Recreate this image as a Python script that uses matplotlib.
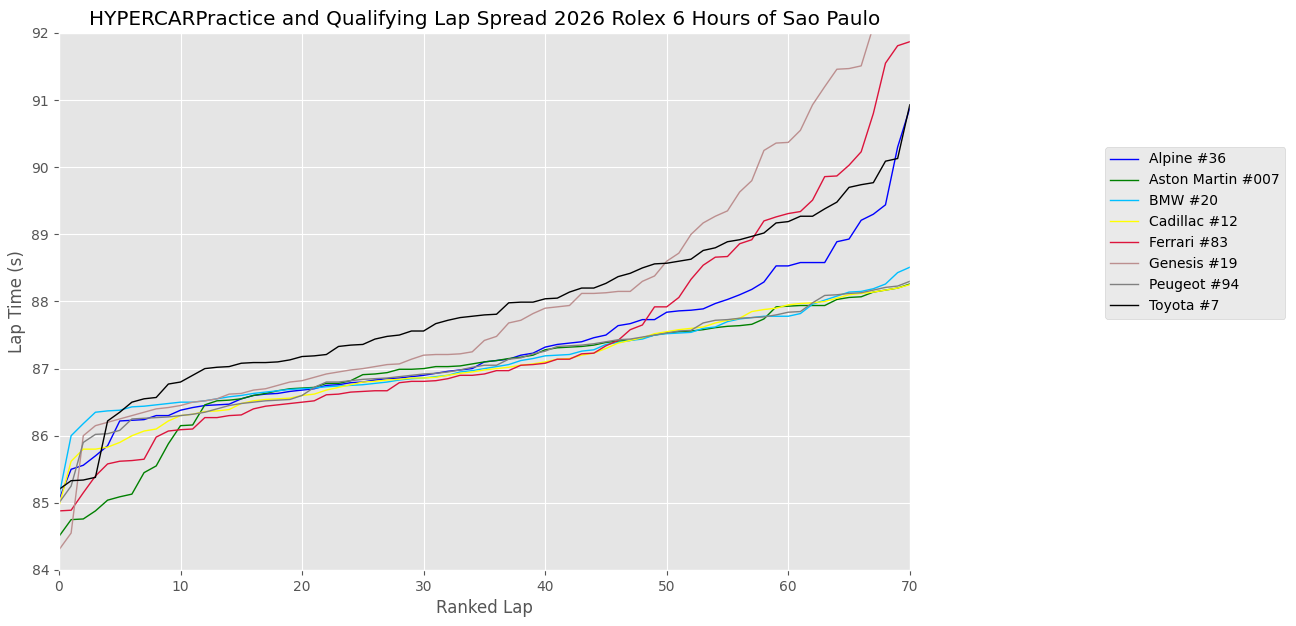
import matplotlib
matplotlib.use("Agg")
import matplotlib.pyplot as plt
import numpy as np

plt.style.use("ggplot")

laps = list(range(71))

alpine = [85.05, 85.5, 85.56, 85.7, 85.85, 86.22, 86.23, 86.24, 86.3, 86.3,
          86.38, 86.42, 86.45, 86.46, 86.47, 86.55, 86.6, 86.62, 86.63, 86.66,
          86.68, 86.7, 86.75, 86.76, 86.79, 86.8, 86.83, 86.85, 86.86, 86.88,
          86.9, 86.93, 86.96, 86.98, 87.0, 87.1, 87.12, 87.14, 87.2, 87.23,
          87.32, 87.36, 87.38, 87.4, 87.46, 87.5, 87.64, 87.67, 87.73, 87.73,
          87.84, 87.86, 87.87, 87.89, 87.97, 88.03, 88.1, 88.18, 88.29, 88.53,
          88.53, 88.58, 88.58, 88.58, 88.89, 88.93, 89.21, 89.3, 89.44, 90.3,
          90.88]
aston = [84.5, 84.75, 84.76, 84.88, 85.04, 85.09, 85.13, 85.45, 85.55, 85.88,
         86.15, 86.16, 86.46, 86.52, 86.53, 86.55, 86.6, 86.63, 86.67, 86.7,
         86.71, 86.72, 86.78, 86.78, 86.82, 86.91, 86.92, 86.94, 86.99, 86.99,
         87.0, 87.03, 87.03, 87.04, 87.07, 87.1, 87.12, 87.15, 87.17, 87.2,
         87.28, 87.31, 87.32, 87.33, 87.35, 87.39, 87.41, 87.42, 87.46, 87.5,
         87.53, 87.55, 87.56, 87.58, 87.61, 87.63, 87.64, 87.66, 87.74, 87.92,
         87.93, 87.94, 87.94, 87.94, 88.03, 88.06, 88.07, 88.14, 88.17, 88.2,
         88.26]
bmw = [85.1, 86.0, 86.18, 86.35, 86.37, 86.38, 86.43, 86.44, 86.46, 86.48,
       86.5, 86.5, 86.52, 86.55, 86.58, 86.6, 86.63, 86.65, 86.67, 86.69,
       86.7, 86.71, 86.73, 86.74, 86.75, 86.76, 86.78, 86.8, 86.83, 86.85,
       86.86, 86.88, 86.9, 86.95, 86.97, 87.0, 87.03, 87.06, 87.12, 87.15,
       87.19, 87.2, 87.21, 87.26, 87.28, 87.36, 87.39, 87.42, 87.44, 87.5,
       87.52, 87.53, 87.54, 87.6, 87.62, 87.7, 87.74, 87.76, 87.78, 87.78,
       87.78, 87.82, 87.96, 88.02, 88.08, 88.14, 88.15, 88.19, 88.26, 88.43,
       88.51]
cadillac = [84.95, 85.62, 85.8, 85.8, 85.83, 85.9, 86.0, 86.07, 86.1, 86.22,
            86.3, 86.32, 86.36, 86.37, 86.39, 86.48, 86.52, 86.54, 86.55, 86.56,
            86.6, 86.62, 86.68, 86.72, 86.76, 86.8, 86.81, 86.83, 86.84, 86.86,
            86.86, 86.87, 86.9, 86.93, 86.95, 86.98, 87.0, 87.02, 87.05, 87.07,
            87.1, 87.14, 87.15, 87.2, 87.23, 87.3, 87.38, 87.42, 87.46, 87.52,
            87.55, 87.58, 87.6, 87.62, 87.68, 87.72, 87.75, 87.85, 87.88, 87.9,
            87.95, 87.97, 87.98, 88.0, 88.05, 88.1, 88.12, 88.14, 88.17, 88.2,
            88.25]
ferrari = [84.88, 84.89, 85.15, 85.4, 85.58, 85.62, 85.63, 85.65, 85.98, 86.07,
           86.09, 86.1, 86.27, 86.27, 86.3, 86.31, 86.4, 86.44, 86.46, 86.48,
           86.5, 86.52, 86.61, 86.62, 86.65, 86.66, 86.67, 86.67, 86.79, 86.81,
           86.81, 86.82, 86.85, 86.9, 86.9, 86.92, 86.97, 86.97, 87.05, 87.06,
           87.08, 87.14, 87.14, 87.22, 87.23, 87.34, 87.42, 87.58, 87.65, 87.92,
           87.92, 88.06, 88.33, 88.54, 88.66, 88.67, 88.86, 88.92, 89.2, 89.26,
           89.31, 89.34, 89.51, 89.86, 89.87, 90.03, 90.23, 90.8, 91.55, 91.81,
           91.87]
genesis = [84.3, 84.55, 86.0, 86.15, 86.2, 86.25, 86.3, 86.35, 86.4, 86.42,
           86.45, 86.5, 86.52, 86.55, 86.62, 86.63, 86.68, 86.7, 86.75, 86.8,
           86.82, 86.87, 86.92, 86.95, 86.98, 87.0, 87.03, 87.06, 87.07, 87.14,
           87.2, 87.21, 87.21, 87.22, 87.25, 87.42, 87.48, 87.68, 87.72, 87.82,
           87.9, 87.92, 87.94, 88.12, 88.12, 88.13, 88.15, 88.15, 88.3, 88.38,
           88.6, 88.72, 89.0, 89.17, 89.27, 89.35, 89.63, 89.8, 90.25, 90.36,
           90.37, 90.55, 90.93, 91.2, 91.46, 91.47, 91.51, 92.1, 92.5, 92.8,
           93.0]
peugeot = [85.0, 85.25, 85.9, 86.02, 86.03, 86.08, 86.25, 86.26, 86.27, 86.28,
           86.3, 86.32, 86.35, 86.4, 86.45, 86.48, 86.5, 86.52, 86.53, 86.54,
           86.6, 86.72, 86.8, 86.8, 86.82, 86.84, 86.85, 86.86, 86.88, 86.9,
           86.92, 86.93, 86.95, 86.98, 87.02, 87.05, 87.05, 87.14, 87.16, 87.22,
           87.26, 87.33, 87.34, 87.35, 87.37, 87.4, 87.43, 87.44, 87.47, 87.5,
           87.53, 87.56, 87.57, 87.68, 87.72, 87.73, 87.75, 87.76, 87.77, 87.8,
           87.84, 87.85, 87.98, 88.09, 88.1, 88.12, 88.13, 88.17, 88.21, 88.23,
           88.3]
toyota = [85.2, 85.33, 85.34, 85.38, 86.22, 86.35, 86.5, 86.55, 86.57, 86.77,
          86.8, 86.9, 87.0, 87.02, 87.03, 87.08, 87.09, 87.09, 87.1, 87.13,
          87.18, 87.19, 87.21, 87.33, 87.35, 87.36, 87.44, 87.48, 87.5, 87.56,
          87.56, 87.67, 87.72, 87.76, 87.78, 87.8, 87.81, 87.98, 87.99, 87.99,
          88.04, 88.05, 88.14, 88.2, 88.2, 88.27, 88.37, 88.42, 88.5, 88.56,
          88.57, 88.6, 88.63, 88.76, 88.8, 88.89, 88.92, 88.97, 89.02, 89.17,
          89.19, 89.27, 89.27, 89.38, 89.48, 89.7, 89.74, 89.77, 90.09, 90.13,
          90.93]

series_names = ["Alpine #36", "Aston Martin #007", "BMW #20", "Cadillac #12",
                "Ferrari #83", "Genesis #19", "Peugeot #94", "Toyota #7"]
series_values = [alpine, aston, bmw, cadillac, ferrari, genesis, peugeot, toyota]
series_colors = ["blue", "green", "deepskyblue", "yellow", "crimson",
                 "rosybrown", "gray", "black"]

fig = plt.figure(figsize=(12.96, 6.26), dpi=100)
ax = fig.add_axes([0.0455, 0.0895, 0.6565, 0.8578])

for name, vals, col in zip(series_names, series_values, series_colors):
    ax.plot(laps, vals, color=col, linewidth=1.0, label=name)

ax.set_xlim(0, 70)
ax.set_ylim(84, 92)
ax.set_xlabel("Ranked Lap")
ax.set_ylabel("Lap Time (s)")
ax.set_title("HYPERCARPractice and Qualifying Lap Spread 2026 Rolex 6 Hours of Sao Paulo")
ax.legend(loc="center left", bbox_to_anchor=(1.221, 0.628))

fig.savefig("out.png", dpi=100)
